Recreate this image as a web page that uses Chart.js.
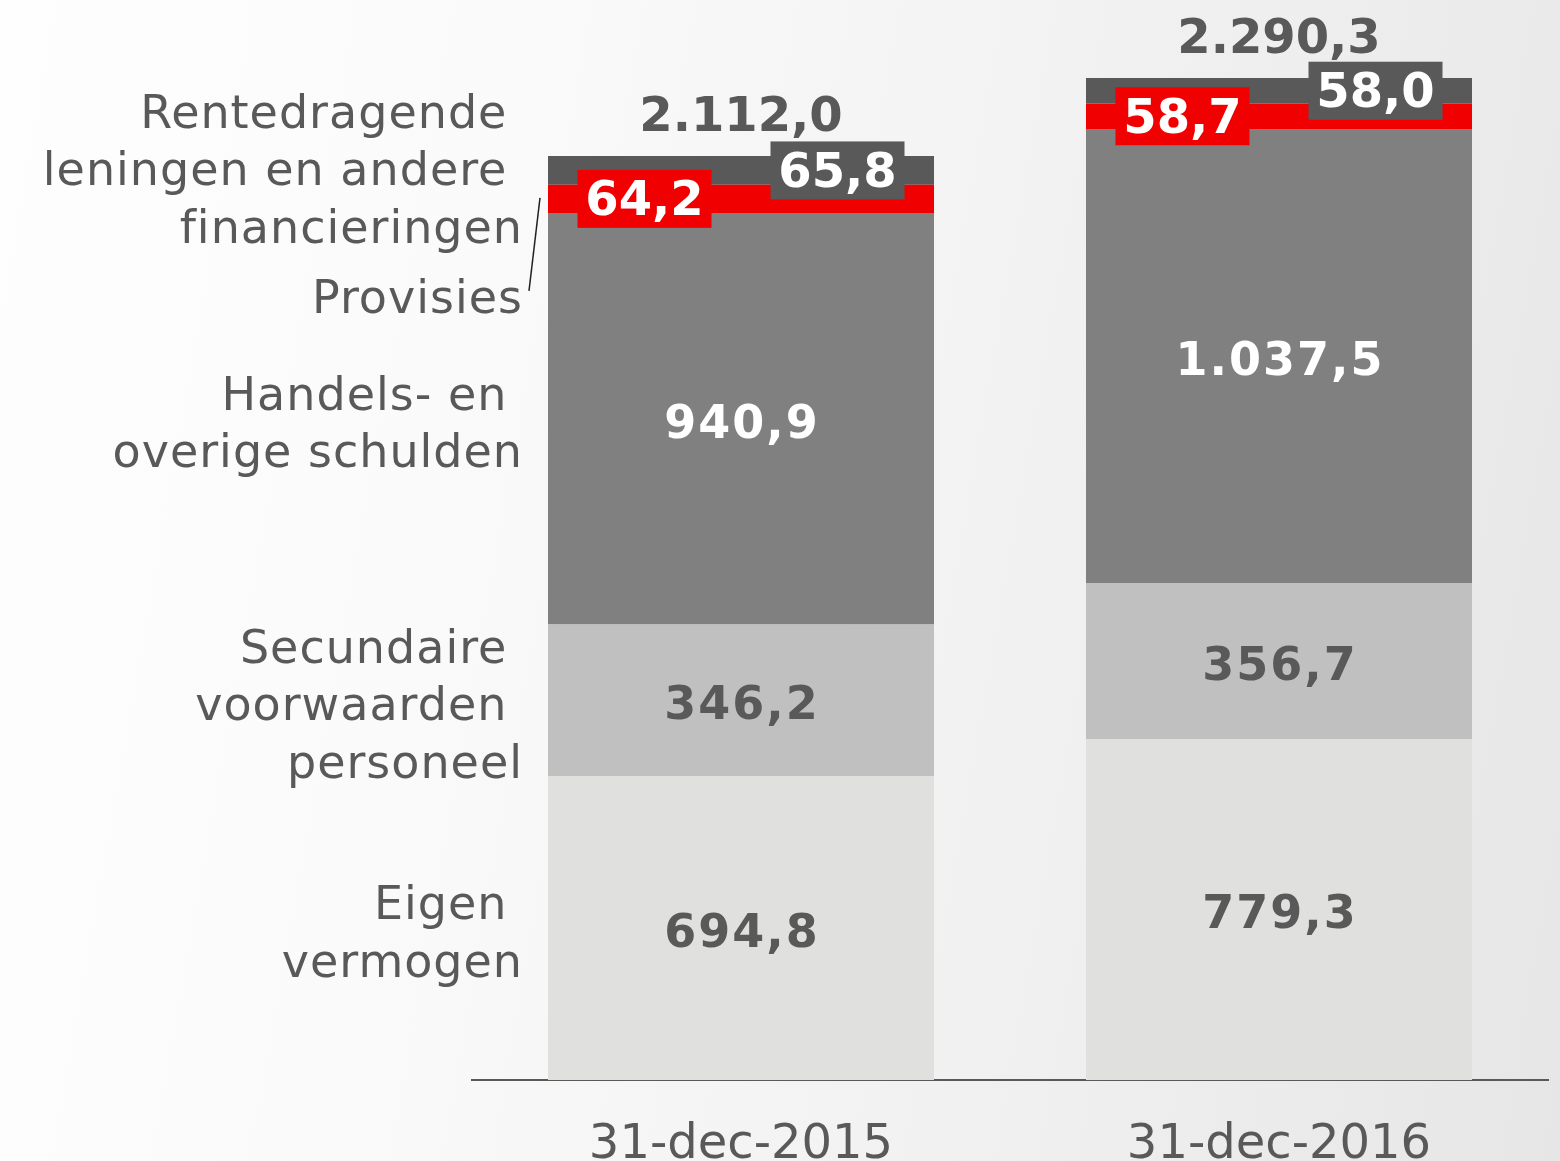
<!DOCTYPE html>
<html lang="nl">
<head>
<meta charset="utf-8">
<title>Passiva 2015 - 2016</title>
<script src="https://cdn.jsdelivr.net/npm/chart.js@4.4.1/dist/chart.umd.min.js"></script>
<style>
  html, body { margin: 0; padding: 0; }
  body {
    width: 1560px; height: 1161px; overflow: hidden;
    background: linear-gradient(100deg, #fefefe 0%, #fafafa 30%, #f1f1f1 65%, #e6e6e6 100%);
  }
  #wrap { position: relative; width: 1560px; height: 1161px; }
</style>
</head>
<body>
<div id="wrap"><canvas id="chart"></canvas></div>
<script>
/* ── DATA ── */
const categories   = ['31-dec-2015', '31-dec-2016'];
const eigenVerm    = [694.8, 779.3];
const secundaire   = [346.2, 356.7];
const handels      = [940.9, 1037.5];
const provisies    = [64.2, 58.7];
const rentedragend = [65.8, 58.0];
const totals       = [2112.0, 2290.3];

const seriesLabels = [
  ['Eigen', 'vermogen'],
  ['Secundaire', 'voorwaarden', 'personeel'],
  ['Handels- en', 'overige schulden'],
  ['Provisies'],
  ['Rentedragende', 'leningen en andere', 'financieringen']
];

const TXT   = '#595959';
const FONT  = '"DejaVu Sans", Verdana, sans-serif';

/* Dutch number format: 2.112,0 */
function fmt(v) {
  const [int, dec] = v.toFixed(1).split('.');
  return int.replace(/\B(?=(\d{3})+(?!\d))/g, '.') + ',' + dec;
}

/* ── LABEL PLUGIN ── */
const labelPlugin = {
  id: 'labels',
  afterDatasetsDraw(chart) {
    const ctx  = chart.ctx;
    const area = chart.chartArea;
    ctx.save();

    /* values inside the segments */
    chart.data.datasets.forEach((ds, di) => {
      const meta = chart.getDatasetMeta(di);
      meta.data.forEach((bar, i) => {
        const mid  = (bar.y + bar.base) / 2;
        const left = bar.x - bar.width / 2;
        const text = fmt(ds.data[i]);
        ctx.textAlign = 'center';
        ctx.textBaseline = 'middle';
        if (ds.boxed) {
          /* small segments: label in a box of the segment colour */
          ctx.font = 'bold 48px ' + FONT;
          ctx.letterSpacing = '0px';
          const cx = ds.boxSide === 'left' ? left + bar.width / 4 : left + bar.width * 3 / 4;
          ctx.fillStyle = ds.backgroundColor;
          ctx.fillRect(cx - 67, mid - 29, 134, 58);
          ctx.fillStyle = '#ffffff';
          ctx.fillText(text, cx, mid + 4);
        } else {
          ctx.font = 'bold 46px ' + FONT;
          ctx.letterSpacing = '2px';
          ctx.fillStyle = ds.labelColor;
          ctx.fillText(text, bar.x + 1, mid + 7);
        }
      });
    });

    /* totals above the bars */
    ctx.letterSpacing = '0px';
    const top = chart.getDatasetMeta(chart.data.datasets.length - 1);
    top.data.forEach((bar, i) => {
      ctx.font = 'bold 48px ' + FONT;
      ctx.fillStyle = TXT;
      ctx.textAlign = 'center';
      ctx.textBaseline = 'middle';
      ctx.fillText(fmt(totals[i]), bar.x, bar.y - 38);
    });

    /* series names at the left of the first bar */
    const rightEdge = area.left + 51;
    ctx.font = '46px ' + FONT;
    ctx.letterSpacing = '1px';
    ctx.fillStyle = TXT;
    ctx.textAlign = 'right';
    ctx.textBaseline = 'middle';
    seriesLabels.forEach((lines, di) => {
      const bar = chart.getDatasetMeta(di).data[0];
      let mid = (bar.y + bar.base) / 2 + 8;
      if (di === 3) mid += 94;  /* Provisies sits lower, with a leader line */
      if (di === 4) mid -= 5;
      lines.forEach((line, li) => {
        const y = mid + (li - (lines.length - 1) / 2) * 57.5;
        const t = li < lines.length - 1 ? line + ' ' : line;
        ctx.fillText(t, rightEdge, y);
      });
      if (di === 3) {
        ctx.strokeStyle = '#222';
        ctx.lineWidth = 1.5;
        ctx.beginPath();
        ctx.moveTo(bar.x - bar.width / 2 - 8, (bar.y + bar.base) / 2 - 1);
        ctx.lineTo(rightEdge + 6, mid - 10);
        ctx.stroke();
      }
    });

    ctx.restore();
  }
};

/* ── CHART ── */
new Chart(document.getElementById('chart').getContext('2d'), {
  type: 'bar',
  data: {
    labels: categories,
    datasets: [
      { label: 'Eigen vermogen', data: eigenVerm, backgroundColor: '#e0e0de', labelColor: TXT },
      { label: 'Secundaire voorwaarden personeel', data: secundaire, backgroundColor: '#c0c0c0', labelColor: TXT },
      { label: 'Handels- en overige schulden', data: handels, backgroundColor: '#808080', labelColor: '#ffffff' },
      { label: 'Provisies', data: provisies, backgroundColor: '#f00000', boxed: true, boxSide: 'left' },
      { label: 'Rentedragende leningen en andere financieringen', data: rentedragend, backgroundColor: '#595959', boxed: true, boxSide: 'right' }
    ]
  },
  options: {
    responsive:          true,
    maintainAspectRatio: false,
    animation:           false,
    categoryPercentage:  1,
    barPercentage:       0.7175,
    layout: { padding: { left: 472, right: 12, top: 30, bottom: 0 } },
    plugins: {
      legend:  { display: false },
      tooltip: { enabled: false }
    },
    scales: {
      x: {
        stacked: true,
        grid:   { display: false, drawTicks: false },
        border: { display: true, color: '#595959', width: 2 },
        ticks:  { font: { family: FONT, size: 48 }, color: TXT, padding: 37 },
        afterFit(scale) { scale.height = 81; }
      },
      y: {
        stacked: true,
        display: false,
        min: 0,
        max: 2400
      }
    }
  },
  plugins: [labelPlugin]
});
</script>
</body>
</html>
